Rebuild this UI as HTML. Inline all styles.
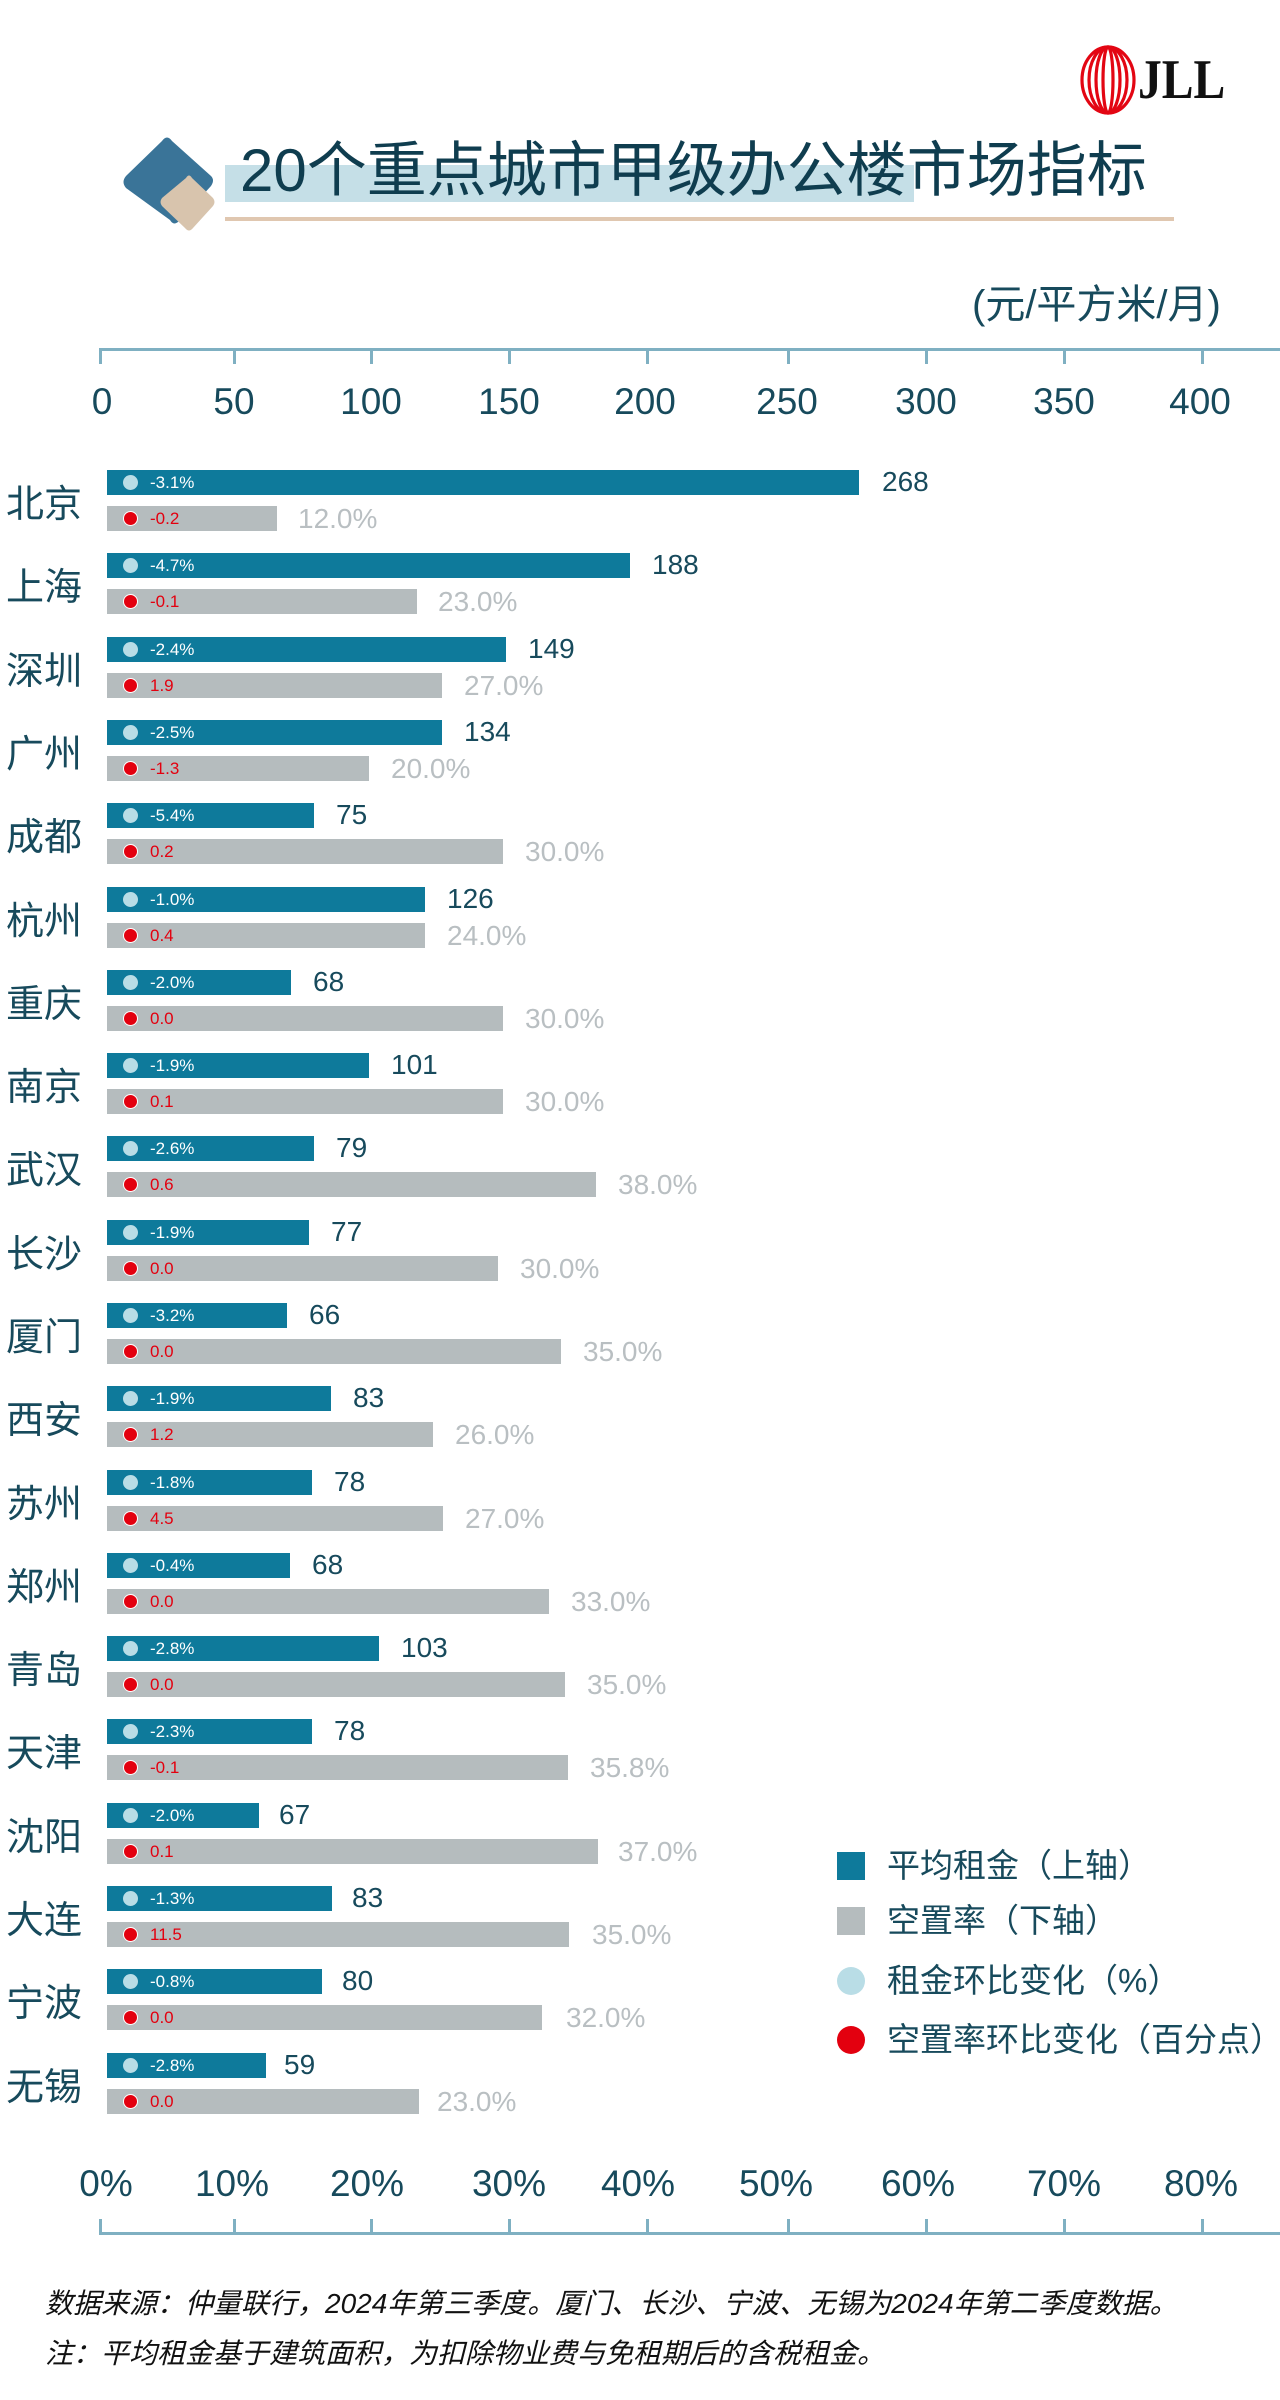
<!DOCTYPE html>
<html><head><meta charset="utf-8">
<style>
*{margin:0;padding:0;box-sizing:border-box}
body{width:1280px;height:2400px;background:#fff;position:relative;overflow:hidden;font-family:"Liberation Sans","Noto Sans CJK SC",sans-serif;color:#174a5c}
.a{position:absolute}
.tk{position:absolute;width:3px;background:#7fb0c2}
.tl{position:absolute;width:100px;margin-left:-50px;text-align:center;font-size:37px;line-height:44px;color:#174a5c}
.row{position:absolute;left:0;width:1280px;height:70px}
.city{position:absolute;left:6px;top:8px;font-size:38px;line-height:46px;color:#174a5c;font-family:"Noto Sans CJK SC",sans-serif}
.rb{position:absolute;left:107px;top:0;height:25px;background:#0e7a9b}
.vb{position:absolute;left:107px;top:36px;height:25px;background:#b5bcbe}
.c1,.c2{position:absolute;left:123px;width:15px;height:15px;border-radius:50%}
.c1{top:5px;background:#b9dde6}
.c2{top:41px;background:#e3000f;border:1.5px solid #fff}
.t1,.t2{position:absolute;left:150px;font-size:17px;line-height:25px}
.t1{top:0;color:#fff}
.t2{top:36px;color:#e3000f}
.rv{position:absolute;top:-3px;font-size:28px;line-height:30px;color:#174a5c}
.vv{position:absolute;top:34px;font-size:28px;line-height:30px;color:#b9bfc2}
.lg{position:absolute;left:887px;font-size:33px;line-height:40px;color:#174a5c;font-family:"Liberation Sans","Noto Sans CJK SC",sans-serif;white-space:nowrap}
.foot{position:absolute;left:45px;font-size:28px;font-style:italic;color:#111;white-space:nowrap}
</style></head><body>

<!-- JLL logo -->
<svg class="a" style="left:1078px;top:44px" width="62" height="72" viewBox="0 0 62 72">
<g fill="none" stroke="#e30613" stroke-width="3.2">
<ellipse cx="30" cy="36" rx="26" ry="33"/>
<ellipse cx="30" cy="36" rx="19" ry="33"/>
<ellipse cx="30" cy="36" rx="12" ry="33"/>
<ellipse cx="30" cy="36" rx="5" ry="33"/>
</g></svg>
<div class="a" style="left:1138px;top:50px;font-family:'Liberation Serif',serif;font-weight:bold;font-size:56px;line-height:60px;color:#111;transform:scaleX(0.85);transform-origin:left">JLL</div>

<!-- title -->
<svg class="a" style="left:118px;top:132px" width="104" height="104" viewBox="0 0 104 104">
<path d="M44 9 Q49 2 54 9 L93 44 Q97 48 93 54 L62 88 Q56 95 52 88 L8 56 Q3 50 8 44 Z" fill="#3a7498" transform="translate(0,0)"/>
<path d="M68 46 Q71 41 74 46 L95 66 Q98 70 95 74 L75 96 Q71 101 67 96 L44 74 Q41 70 44 66 Z" fill="#d8c4ad"/>
</svg>
<div class="a" style="left:225px;top:165px;width:689px;height:37px;background:#c5dfe7"></div>
<div class="a" style="left:240px;top:134px;font-size:60px;line-height:74px;color:#0f3d4f;font-family:'Liberation Sans','Noto Sans CJK SC',sans-serif;white-space:nowrap">20个重点城市甲级办公楼市场指标</div>
<div class="a" style="left:225px;top:217px;width:949px;height:4px;background:#e0c7b0"></div>

<div class="a" style="left:972px;top:280px;font-size:40px;line-height:50px;color:#174a5c;white-space:nowrap">(元/平方米/月)</div>

<!-- top axis -->
<div class="a" style="left:100px;top:348px;width:1180px;height:3px;background:#7fb0c2"></div>
<div class="tk" style="left:99px;top:348px;height:16px"></div>
<div class="tk" style="left:233px;top:348px;height:16px"></div>
<div class="tk" style="left:370px;top:348px;height:16px"></div>
<div class="tk" style="left:508px;top:348px;height:16px"></div>
<div class="tk" style="left:646px;top:348px;height:16px"></div>
<div class="tk" style="left:787px;top:348px;height:16px"></div>
<div class="tk" style="left:925px;top:348px;height:16px"></div>
<div class="tk" style="left:1063px;top:348px;height:16px"></div>
<div class="tk" style="left:1201px;top:348px;height:16px"></div>
<div class="tl" style="left:102px;top:380px">0</div>
<div class="tl" style="left:234px;top:380px">50</div>
<div class="tl" style="left:371px;top:380px">100</div>
<div class="tl" style="left:509px;top:380px">150</div>
<div class="tl" style="left:645px;top:380px">200</div>
<div class="tl" style="left:787px;top:380px">250</div>
<div class="tl" style="left:926px;top:380px">300</div>
<div class="tl" style="left:1064px;top:380px">350</div>
<div class="tl" style="left:1200px;top:380px">400</div>

<!-- rows -->
<div class="row" style="top:470px"><div class="city">北京</div><div class="rb" style="width:752px"></div><div class="c1"></div><div class="t1">-3.1%</div><div class="rv" style="left:882px">268</div><div class="vb" style="width:170px"></div><div class="c2"></div><div class="t2">-0.2</div><div class="vv" style="left:298px">12.0%</div></div>
<div class="row" style="top:553px"><div class="city">上海</div><div class="rb" style="width:523px"></div><div class="c1"></div><div class="t1">-4.7%</div><div class="rv" style="left:652px">188</div><div class="vb" style="width:310px"></div><div class="c2"></div><div class="t2">-0.1</div><div class="vv" style="left:438px">23.0%</div></div>
<div class="row" style="top:637px"><div class="city">深圳</div><div class="rb" style="width:399px"></div><div class="c1"></div><div class="t1">-2.4%</div><div class="rv" style="left:528px">149</div><div class="vb" style="width:335px"></div><div class="c2"></div><div class="t2">1.9</div><div class="vv" style="left:464px">27.0%</div></div>
<div class="row" style="top:720px"><div class="city">广州</div><div class="rb" style="width:335px"></div><div class="c1"></div><div class="t1">-2.5%</div><div class="rv" style="left:464px">134</div><div class="vb" style="width:262px"></div><div class="c2"></div><div class="t2">-1.3</div><div class="vv" style="left:391px">20.0%</div></div>
<div class="row" style="top:803px"><div class="city">成都</div><div class="rb" style="width:207px"></div><div class="c1"></div><div class="t1">-5.4%</div><div class="rv" style="left:336px">75</div><div class="vb" style="width:396px"></div><div class="c2"></div><div class="t2">0.2</div><div class="vv" style="left:525px">30.0%</div></div>
<div class="row" style="top:887px"><div class="city">杭州</div><div class="rb" style="width:318px"></div><div class="c1"></div><div class="t1">-1.0%</div><div class="rv" style="left:447px">126</div><div class="vb" style="width:318px"></div><div class="c2"></div><div class="t2">0.4</div><div class="vv" style="left:447px">24.0%</div></div>
<div class="row" style="top:970px"><div class="city">重庆</div><div class="rb" style="width:184px"></div><div class="c1"></div><div class="t1">-2.0%</div><div class="rv" style="left:313px">68</div><div class="vb" style="width:396px"></div><div class="c2"></div><div class="t2">0.0</div><div class="vv" style="left:525px">30.0%</div></div>
<div class="row" style="top:1053px"><div class="city">南京</div><div class="rb" style="width:262px"></div><div class="c1"></div><div class="t1">-1.9%</div><div class="rv" style="left:391px">101</div><div class="vb" style="width:396px"></div><div class="c2"></div><div class="t2">0.1</div><div class="vv" style="left:525px">30.0%</div></div>
<div class="row" style="top:1136px"><div class="city">武汉</div><div class="rb" style="width:207px"></div><div class="c1"></div><div class="t1">-2.6%</div><div class="rv" style="left:336px">79</div><div class="vb" style="width:489px"></div><div class="c2"></div><div class="t2">0.6</div><div class="vv" style="left:618px">38.0%</div></div>
<div class="row" style="top:1220px"><div class="city">长沙</div><div class="rb" style="width:202px"></div><div class="c1"></div><div class="t1">-1.9%</div><div class="rv" style="left:331px">77</div><div class="vb" style="width:391px"></div><div class="c2"></div><div class="t2">0.0</div><div class="vv" style="left:520px">30.0%</div></div>
<div class="row" style="top:1303px"><div class="city">厦门</div><div class="rb" style="width:180px"></div><div class="c1"></div><div class="t1">-3.2%</div><div class="rv" style="left:309px">66</div><div class="vb" style="width:454px"></div><div class="c2"></div><div class="t2">0.0</div><div class="vv" style="left:583px">35.0%</div></div>
<div class="row" style="top:1386px"><div class="city">西安</div><div class="rb" style="width:224px"></div><div class="c1"></div><div class="t1">-1.9%</div><div class="rv" style="left:353px">83</div><div class="vb" style="width:326px"></div><div class="c2"></div><div class="t2">1.2</div><div class="vv" style="left:455px">26.0%</div></div>
<div class="row" style="top:1470px"><div class="city">苏州</div><div class="rb" style="width:205px"></div><div class="c1"></div><div class="t1">-1.8%</div><div class="rv" style="left:334px">78</div><div class="vb" style="width:336px"></div><div class="c2"></div><div class="t2">4.5</div><div class="vv" style="left:465px">27.0%</div></div>
<div class="row" style="top:1553px"><div class="city">郑州</div><div class="rb" style="width:183px"></div><div class="c1"></div><div class="t1">-0.4%</div><div class="rv" style="left:312px">68</div><div class="vb" style="width:442px"></div><div class="c2"></div><div class="t2">0.0</div><div class="vv" style="left:571px">33.0%</div></div>
<div class="row" style="top:1636px"><div class="city">青岛</div><div class="rb" style="width:272px"></div><div class="c1"></div><div class="t1">-2.8%</div><div class="rv" style="left:401px">103</div><div class="vb" style="width:458px"></div><div class="c2"></div><div class="t2">0.0</div><div class="vv" style="left:587px">35.0%</div></div>
<div class="row" style="top:1719px"><div class="city">天津</div><div class="rb" style="width:205px"></div><div class="c1"></div><div class="t1">-2.3%</div><div class="rv" style="left:334px">78</div><div class="vb" style="width:461px"></div><div class="c2"></div><div class="t2">-0.1</div><div class="vv" style="left:590px">35.8%</div></div>
<div class="row" style="top:1803px"><div class="city">沈阳</div><div class="rb" style="width:152px"></div><div class="c1"></div><div class="t1">-2.0%</div><div class="rv" style="left:279px">67</div><div class="vb" style="width:491px"></div><div class="c2"></div><div class="t2">0.1</div><div class="vv" style="left:618px">37.0%</div></div>
<div class="row" style="top:1886px"><div class="city">大连</div><div class="rb" style="width:225px"></div><div class="c1"></div><div class="t1">-1.3%</div><div class="rv" style="left:352px">83</div><div class="vb" style="width:462px"></div><div class="c2"></div><div class="t2">11.5</div><div class="vv" style="left:592px">35.0%</div></div>
<div class="row" style="top:1969px"><div class="city">宁波</div><div class="rb" style="width:215px"></div><div class="c1"></div><div class="t1">-0.8%</div><div class="rv" style="left:342px">80</div><div class="vb" style="width:435px"></div><div class="c2"></div><div class="t2">0.0</div><div class="vv" style="left:566px">32.0%</div></div>
<div class="row" style="top:2053px"><div class="city">无锡</div><div class="rb" style="width:159px"></div><div class="c1"></div><div class="t1">-2.8%</div><div class="rv" style="left:284px">59</div><div class="vb" style="width:312px"></div><div class="c2"></div><div class="t2">0.0</div><div class="vv" style="left:437px">23.0%</div></div>

<!-- legend -->
<div class="a" style="left:837px;top:1852px;width:28px;height:28px;background:#0e7a9b"></div>
<div class="lg" style="top:1846px">平均租金（上轴）</div>
<div class="a" style="left:837px;top:1907px;width:28px;height:28px;background:#b5bcbe"></div>
<div class="lg" style="top:1901px">空置率（下轴）</div>
<div class="a" style="left:837px;top:1967px;width:28px;height:28px;border-radius:50%;background:#b9dde6"></div>
<div class="lg" style="top:1961px">租金环比变化（%）</div>
<div class="a" style="left:837px;top:2026px;width:28px;height:28px;border-radius:50%;background:#e3000f"></div>
<div class="lg" style="top:2020px">空置率环比变化（百分点）</div>

<!-- bottom axis -->
<div class="tl" style="left:106px;top:2162px">0%</div>
<div class="tl" style="left:232px;top:2162px">10%</div>
<div class="tl" style="left:367px;top:2162px">20%</div>
<div class="tl" style="left:509px;top:2162px">30%</div>
<div class="tl" style="left:638px;top:2162px">40%</div>
<div class="tl" style="left:776px;top:2162px">50%</div>
<div class="tl" style="left:918px;top:2162px">60%</div>
<div class="tl" style="left:1064px;top:2162px">70%</div>
<div class="tl" style="left:1201px;top:2162px">80%</div>
<div class="a" style="left:100px;top:2232px;width:1180px;height:3px;background:#7fb0c2"></div>
<div class="tk" style="left:99px;top:2219px;height:16px"></div>
<div class="tk" style="left:233px;top:2219px;height:16px"></div>
<div class="tk" style="left:370px;top:2219px;height:16px"></div>
<div class="tk" style="left:508px;top:2219px;height:16px"></div>
<div class="tk" style="left:646px;top:2219px;height:16px"></div>
<div class="tk" style="left:787px;top:2219px;height:16px"></div>
<div class="tk" style="left:925px;top:2219px;height:16px"></div>
<div class="tk" style="left:1063px;top:2219px;height:16px"></div>
<div class="tk" style="left:1201px;top:2219px;height:16px"></div>

<div class="foot" style="top:2282px">数据来源：仲量联行，2024年第三季度。厦门、长沙、宁波、无锡为2024年第二季度数据。</div>
<div class="foot" style="top:2332px">注：平均租金基于建筑面积，为扣除物业费与免租期后的含税租金。</div>
</body></html>
